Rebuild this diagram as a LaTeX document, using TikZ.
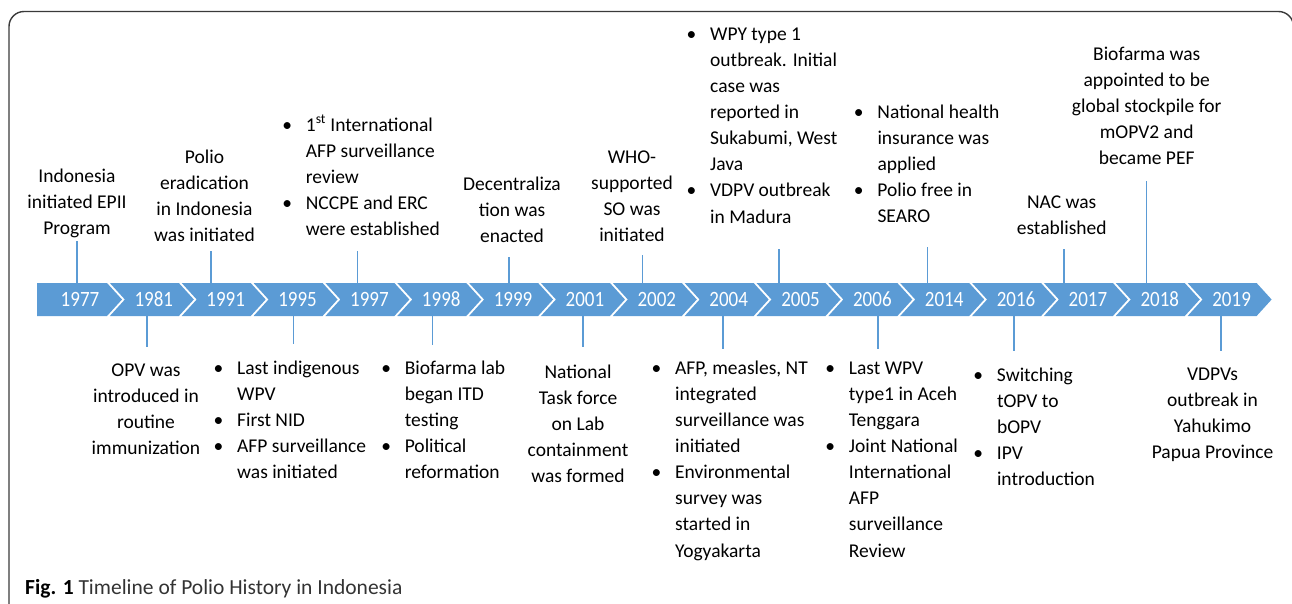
\documentclass[tikz,border=0pt]{standalone}
\usepackage{fontspec}
\setmainfont{Carlito}
\usepackage{array}
\usepackage{graphicx}
\definecolor{chev}{HTML}{5B9BD5}
\definecolor{framec}{HTML}{3A3A3A}
\newcommand\bl{\llap{\makebox[0pt]{\textbullet}\hspace{18.7pt}}}
\tikzset{
  chevshape/.style={fill=chev, draw=none},
  yearlbl/.style={text=white, font=\fontsize{19}{22}\selectfont, inner sep=0, anchor=base},
  lbl/.style={inner sep=0, anchor=base, font=\fontsize{19.5}{26.15}\selectfont},
  blist/.style={inner sep=0, anchor=base west, font=\fontsize{19.5}{26.15}\selectfont},
  conn/.style={draw=chev, line width=1.3pt},
  framebox/.style={draw=framec, line width=1.4pt, rounded corners=15pt},
}
\begin{document}
\begin{tikzpicture}[x=1pt,y=-1pt]
\useasboundingbox (0,0) rectangle (1292,603);
\clip (0,0) rectangle (1292,603);
\draw[framebox] (9,11.5) rectangle (1293.5,640);

% chevrons
\def\w{69}\def\d{15}
\foreach \yr [count=\k from 0] in {1977,1981,1991,1995,1997,1998,1999,2001,2002,2004,2005,2006,2014,2016,2017,2018,2019}{
  \pgfmathsetmacro\a{38+\k*71.85}
  \ifnum\k=0
    \fill[chevshape] (37,283) -- (\a+\w,283) -- (\a+\w+\d,299.5) -- (\a+\w,316) -- (37,316) -- cycle;
    \node[yearlbl] (y\yr) at (\a+42,306) {\scalebox{1}[1.15]{\yr}};
  \else
    \fill[chevshape] (\a,283) -- (\a+\w,283) -- (\a+\w+\d,299.5) -- (\a+\w,316) -- (\a,316) -- (\a+\d,299.5) -- cycle;
    \node[yearlbl] (y\yr) at (\a+44,306) {\scalebox{1}[1.15]{\yr}};
  \fi
}

% connectors (top)
\foreach \yr/\x/\e in {1977/77/241,1991/211/251,1997/357.7/251,1999/509/257,2002/642.7/255,2005/779/249,2014/927.7/247,2017/1064/249,2018/1146.7/181}{
  \coordinate (a\yr) at (\x,283);
  \coordinate (b\yr) at (\x,\e);
  \draw[conn] (a\yr) -- (b\yr);
}
% connectors (bottom)
\foreach \yr/\x/\e in {1981/147/347,1995/293.5/344,1998/432.5/345,2001/583/347,2004/723/349,2006/878/349,2016/1014/351,2019/1221/351}{
  \coordinate (a\yr) at (\x,316);
  \coordinate (b\yr) at (\x,\e);
  \draw[conn] (a\yr) -- (b\yr);
}

% top labels
\node[lbl] (t1977) at (77,182) {\begin{tabular}[t]{@{}c@{}}Indonesia\\initiated EPII\\Program\end{tabular}};
\node[lbl] (t1991) at (204.5,163) {\begin{tabular}[t]{@{}c@{}}Polio\\eradication\\in Indonesia\\was initiated\end{tabular}};
\node[blist] (t1997) at (305.7,131) {\begin{tabular}[t]{@{}l@{}}\bl 1\textsuperscript{st} International\\AFP surveillance\\review\\\bl NCCPE and ERC\\were established\end{tabular}};
\node[lbl] (t1999) at (512,190) {\begin{tabular}[t]{@{}c@{}}Decentraliza\\tion was\\enacted\end{tabular}};
\node[lbl] (t2002) at (632,163) {\begin{tabular}[t]{@{}c@{}}WHO-\\supported\\SO was\\initiated\end{tabular}};
\node[blist] (t2005) at (710,40) {\begin{tabular}[t]{@{}l@{}}\bl WPY type 1\\outbreak. Initial\\case was\\reported in\\Sukabumi, West\\Java\\\bl VDPV outbreak\\in Madura\end{tabular}};
\node[blist] (t2014) at (877.3,118) {\begin{tabular}[t]{@{}l@{}}\bl National health\\insurance was\\applied\\\bl Polio free in\\SEARO\end{tabular}};
\node[lbl] (t2017) at (1061.7,208) {\begin{tabular}[t]{@{}c@{}}NAC was\\established\end{tabular}};
\node[lbl] (t2018) at (1146.7,60) {\begin{tabular}[t]{@{}c@{}}Biofarma was\\appointed to be\\global stockpile for\\mOPV2 and\\became PEF\end{tabular}};

% bottom labels
\node[lbl] (t1981) at (146,376) {\begin{tabular}[t]{@{}c@{}}OPV was\\introduced in\\routine\\immunization\end{tabular}};
\node[blist] (t1995) at (237,374) {\begin{tabular}[t]{@{}l@{}}\bl Last indigenous\\WPV\\\bl First NID\\\bl AFP surveillance\\was initiated\end{tabular}};
\node[blist] (t1998) at (404.6,374) {\begin{tabular}[t]{@{}l@{}}\bl Biofarma lab\\began ITD\\testing\\\bl Political\\reformation\end{tabular}};
\node[lbl] (t2001) at (578,378) {\begin{tabular}[t]{@{}c@{}}National\\Task force\\on Lab\\containment\\was formed\end{tabular}};
\node[blist] (t2004) at (675,374) {\begin{tabular}[t]{@{}l@{}}\bl AFP, measles, NT\\integrated\\surveillance was\\initiated\\\bl Environmental\\survey was\\started in\\Yogyakarta\end{tabular}};
\node[blist] (t2006) at (848.7,374) {\begin{tabular}[t]{@{}l@{}}\bl Last WPV\\type1 in Aceh\\Tenggara\\\bl Joint National\\International\\AFP\\surveillance\\Review\end{tabular}};
\node[blist] (t2016) at (996.8,381) {\begin{tabular}[t]{@{}l@{}}\bl Switching\\tOPV to\\bOPV\\\bl IPV\\introduction\end{tabular}};
\node[lbl] (t2019) at (1212.5,380) {\begin{tabular}[t]{@{}c@{}}VDPVs\\outbreak in\\Yahukimo\\Papua Province\end{tabular}};

% caption
\node[anchor=base west, inner sep=0, font=\fontsize{21.5}{26}\selectfont] (cap) at (25,594) {\textbf{Fig. 1} \textcolor{black!80}{Timeline of Polio History in Indonesia}};
\end{tikzpicture}
\end{document}
